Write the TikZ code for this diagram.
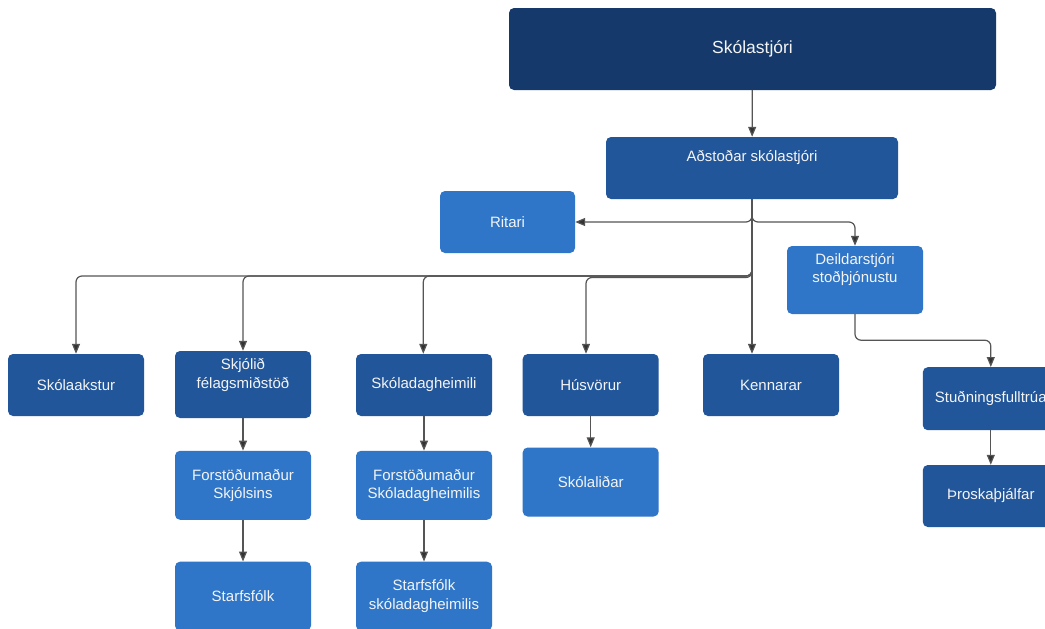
\documentclass[tikz,border=0pt]{standalone}
\usepackage{fontspec}
\setmainfont{Liberation Sans}
\usetikzlibrary{arrows.meta}
\definecolor{headblue}{HTML}{15396B}
\definecolor{dkblue}{HTML}{22569A}
\definecolor{ltblue}{HTML}{2F76C8}
\definecolor{txtwhite}{HTML}{F4F4F4}
\definecolor{linegray}{HTML}{555555}
\definecolor{tipgray}{HTML}{333333}
\tikzset{
  box/.style={rectangle, rounded corners=5pt, inner sep=0pt, draw=none,
    text=txtwhite, font=\fontsize{15}{18.5}\selectfont, align=center},
  dk/.style={box, fill=dkblue},
  lt/.style={box, fill=ltblue},
  wh/.style={minimum width=136pt, minimum height=#1},
  txt/.style={text=txtwhite, font=\fontsize{15}{18.5}\selectfont, align=center, inner sep=0pt},
  conn/.style={draw=linegray, line width=1.2pt, rounded corners=6pt,
    -{Triangle[length=10pt,width=8pt,fill=tipgray]}},
}
\begin{document}
\begin{tikzpicture}[x=1pt,y=-1pt]
\useasboundingbox (0,0) rectangle (1045,629);
\clip (0,0) rectangle (1045,629);
\fill[white] (0,0) rectangle (1045,629);

% top level
\node[box, fill=headblue, minimum width=487pt, minimum height=82pt,
  font=\fontsize{17.5}{21}\selectfont] (head) at (752.5,49) {Skólastjóri};
\node[dk, minimum width=292pt, minimum height=62pt,
  label={[txt,yshift=10pt]center:Aðstoðar skólastjóri}] (asst) at (752,168) {};
\node[lt, minimum width=135pt, minimum height=62pt] (rit) at (507.5,222) {Ritari};
\node[lt, wh=68pt,
  label={[txt,yshift=10.5pt]center:{Deildarstjóri\\stoðþjónustu}}] (deild) at (855,280) {};

% second row
\node[dk, wh=62pt] (aks) at (76,385) {Skólaakstur};
\node[dk, wh=67pt,
  label={[txt,yshift=9.5pt]center:{Skjólið\\félagsmiðstöð}}] (skj) at (243,384.5) {};
\node[dk, wh=62pt] (sdh) at (424,385) {Skóladagheimili};
\node[dk, wh=62pt] (hus) at (590.7,385) {Húsvörur};
\node[dk, wh=62pt] (ken) at (771,385) {Kennarar};
\node[dk, wh=63pt] (stud) at (990.8,398.7) {Stuðningsfulltrúa};
\node[dk, wh=62pt] (thro) at (990.8,496) {Þroskaþjálfar};

% third row
\node[lt, wh=69pt] (fs) at (243,485.3) {Forstöðumaður\\Skjólsins};
\node[lt, wh=69pt] (fsd) at (424,485.3) {Forstöðumaður\\Skóladagheimilis};
\node[lt, wh=69pt] (sli) at (590.7,482) {Skólaliðar};

% fourth row
\node[lt, wh=69pt] (sf) at (243,596.2) {Starfsfólk};
\node[lt, wh=69pt] (sfs) at (424,596.2) {Starfsfólk\\skóladagheimilis};

% bus line level
\coordinate (bus) at (752,276);
\coordinate (bus2) at (752,277.5);

% connectors
\draw[conn] (head) -- (asst);
\draw[conn] (asst.south) |- (rit.east);
\draw[conn] (asst.south) |- (deild.north |- rit.east) -- (deild.north);
\draw[conn] (asst.south) |- (aks.north |- bus) -- (aks.north);
\draw[conn] (asst.south) |- (skj.north |- bus) -- (skj.north);
\draw[conn] (asst.south) |- ([xshift=-0.7pt]sdh.north |- bus) -- ([xshift=-0.7pt]sdh.north);
\draw[conn] (asst.south) |- ([xshift=-4.7pt]hus.north |- bus2) -- ([xshift=-4.7pt]hus.north);
\draw[conn] (asst.south) -- (asst.south |- ken.north);
\draw[conn] (deild.south) -- ++(0,26) -| (stud.north);
\draw[conn] (stud) -- (thro);
\draw[conn] (skj) -- (fs);
\draw[conn] (sdh) -- (fsd);
\draw[conn] (hus) -- (sli);
\draw[conn] (fs) -- (sf);
\draw[conn] (fsd) -- (sfs);
\end{tikzpicture}
\end{document}
